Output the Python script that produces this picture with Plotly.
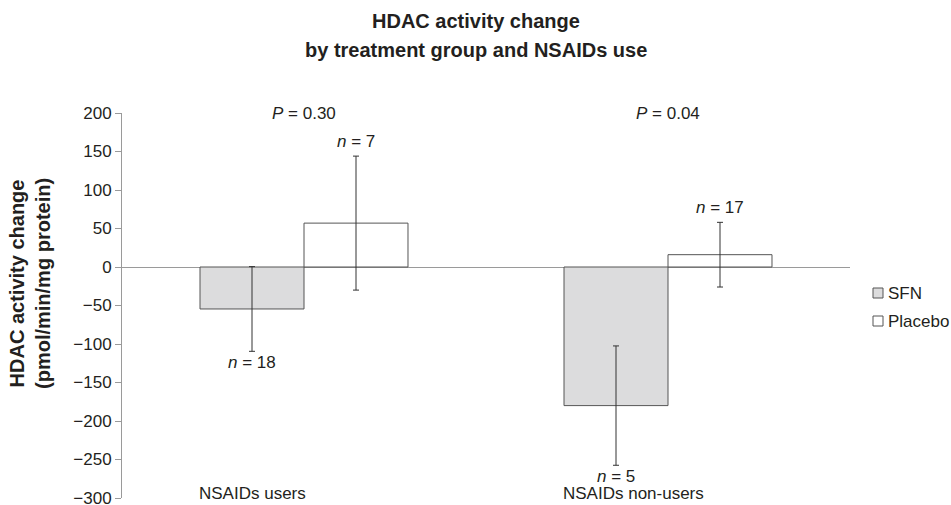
import plotly.graph_objects as go

# ---------------- data ----------------
categories = ["NSAIDs users", "NSAIDs non-users"]
series_names = ["SFN", "Placebo"]
sfn_values = [-54.5, -180]
sfn_errors = [55, 77.5]
placebo_values = [57, 16]
placebo_errors = [87, 42]
sfn_n = ["18", "5"]
placebo_n = ["7", "17"]
p_values = ["0.30", "0.04"]
y_tickvals = [-300, -250, -200, -150, -100, -50, 0, 50, 100, 150, 200]
y_ticktext = ["\u2212300", "\u2212250", "\u2212200", "\u2212150", "\u2212100",
              "\u221250", "0", "50", "100", "150", "200"]
title_lines = ["HDAC activity change", "by treatment group and NSAIDs use"]
y_title_lines = ["HDAC activity change", "(pmol/min/mg protein)"]

# ---------------- style ----------------
FONT = "Liberation Sans, Arial, Helvetica, sans-serif"
TXT = "#231f20"
AXIS = "#9a9a9a"
SFN_FILL = "#dcdcdd"
EDGE = "#555555"
ERR = "#333333"
BARGAP = 0.4286
GROUP_HALF = (1 - BARGAP) / 2
BAR_OFF = GROUP_HALF / 2

W_FIG, H_FIG = 951, 505
L, R, T, B = 122, 101, 113, 7
PW, PH = W_FIG - L - R, H_FIG - T - B


def px_x(p):
    return (p - L) / PW


def px_y(p):
    return (T + PH - p) / PH


fig = go.Figure()
fig.add_trace(go.Bar(
    x=categories, y=sfn_values, name=series_names[0],
    marker=dict(color=SFN_FILL, line=dict(color=EDGE, width=1)),
    error_y=dict(type="data", array=sfn_errors, color=ERR, thickness=1, width=3),
    showlegend=False,
))
fig.add_trace(go.Bar(
    x=categories, y=placebo_values, name=series_names[1],
    marker=dict(color="white", line=dict(color=EDGE, width=1)),
    error_y=dict(type="data", array=placebo_errors, color=ERR, thickness=1, width=3),
    showlegend=False,
))

ann = []
f17 = dict(family=FONT, size=17, color=TXT)
for i, cat in enumerate(categories):
    ann.append(dict(x=i - GROUP_HALF, y=-293, xref="x", yref="y", text=cat,
                    showarrow=False, xanchor="left", yanchor="middle",
                    xshift=-3, yshift=-1, font=f17))
    ann.append(dict(x=i, y=200, xref="x", yref="y",
                    text="<i>P</i> = " + p_values[i], showarrow=False,
                    xanchor="center", yanchor="middle", font=f17))
    ann.append(dict(x=i - BAR_OFF, y=sfn_values[i] - sfn_errors[i], xref="x", yref="y",
                    text="<i>n</i> = " + sfn_n[i], showarrow=False,
                    xanchor="center", yanchor="top", yshift=0, font=f17))
    ann.append(dict(x=i + BAR_OFF, y=placebo_values[i] + placebo_errors[i], xref="x", yref="y",
                    text="<i>n</i> = " + placebo_n[i], showarrow=False,
                    xanchor="center", yanchor="bottom", yshift=3, font=f17))

# chart title (two lines, placed individually for exact spacing)
for txt, yc in zip(title_lines, [21, 50]):
    ann.append(dict(x=0.5, y=px_y(yc), xref="paper", yref="paper",
                    text="<b>%s</b>" % txt, showarrow=False,
                    xanchor="center", yanchor="middle",
                    xshift=(W_FIG / 2) - (L + PW / 2),
                    font=dict(family=FONT, size=20, color=TXT)))

# y-axis title
ann.append(dict(x=px_x(30), y=px_y(284), xref="paper", yref="paper",
                text="<br>".join("<b>%s</b>" % s for s in y_title_lines),
                textangle=-90, showarrow=False, xanchor="center", yanchor="middle",
                font=dict(family=FONT, size=20, color=TXT)))

# manual legend
shapes = []
legend_fills = [SFN_FILL, "white"]
legend_y = [293, 321]
for name, fill, yc in zip(series_names, legend_fills, legend_y):
    shapes.append(dict(type="rect", xref="paper", yref="paper",
                       x0=px_x(873), x1=px_x(883), y0=px_y(yc + 5), y1=px_y(yc - 5),
                       fillcolor=fill, line=dict(color=EDGE, width=1)))
    ann.append(dict(x=px_x(886), y=px_y(yc), xref="paper", yref="paper", text=name,
                    showarrow=False, xanchor="left", yanchor="middle", font=f17))

fig.update_layout(
    width=W_FIG, height=H_FIG,
    margin=dict(l=L, r=R, t=T, b=B, pad=0, autoexpand=False),
    paper_bgcolor="white", plot_bgcolor="white",
    barmode="group", bargap=BARGAP, bargroupgap=0,
    xaxis=dict(range=[-0.5, 1.5], showticklabels=False, showline=False,
               showgrid=False, zeroline=False, ticks="", automargin=False),
    yaxis=dict(range=[-300, 200], tickvals=y_tickvals, ticktext=y_ticktext,
               showgrid=False, zeroline=True, zerolinecolor=AXIS, zerolinewidth=1,
               showline=True, linecolor=AXIS, linewidth=1,
               ticks="outside", ticklen=6, tickcolor=AXIS, tickwidth=1,
               ticklabeloverflow="allow", automargin=False,
               tickfont=dict(family=FONT, size=17, color=TXT)),
    annotations=ann, shapes=shapes,
    font=dict(family=FONT, color=TXT),
)

fig.write_html(
    "out.html",
    config={"displayModeBar": False},
    post_script="document.body.style.margin='0';document.body.style.overflow='hidden';",
)
